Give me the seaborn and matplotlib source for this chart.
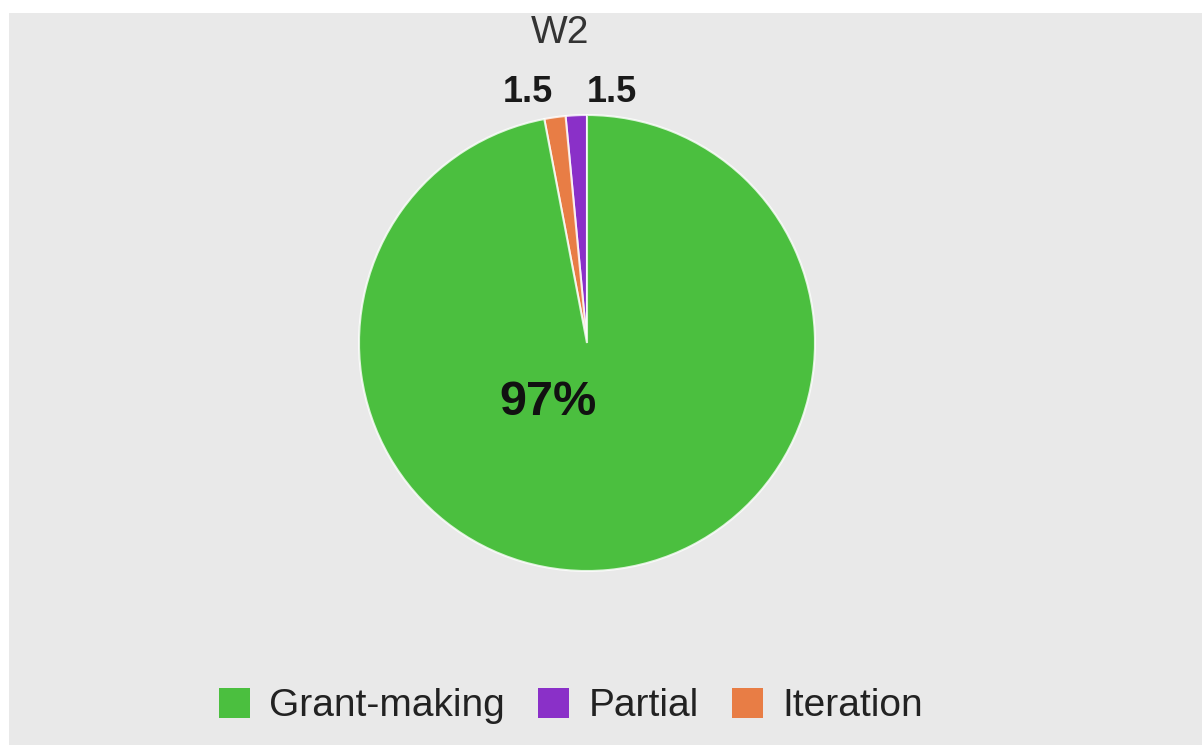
import matplotlib
matplotlib.use("Agg")
import matplotlib.pyplot as plt
import seaborn as sns
from matplotlib.patches import Patch, Rectangle

# data, in the order the slices are drawn (counter-clockwise from 12 o'clock)
slice_names = ["Partial", "Iteration", "Grant-making"]
slice_values = [1.5, 1.5, 97]
slice_labels = ["1.5", "1.5", "97%"]
legend_order = ["Grant-making", "Partial", "Iteration"]
title = "W2"

colors = {"Grant-making": "#4bbf3f", "Partial": "#8a30c8", "Iteration": "#e87d45"}

sns.set_style("white")
plt.rcParams["font.family"] = ["Liberation Sans", "DejaVu Sans"]

W, H = 1202, 745
fig = plt.figure(figsize=(W / 100, H / 100), dpi=100)
fig.patch.set_facecolor("white")

# grey panel, with the white strips on top and left
fig.add_artist(Rectangle((9 / W, -0.01), 1, 1.02, transform=fig.transFigure,
                         facecolor="#e9e9e9", edgecolor="none", zorder=-5))
fig.add_artist(Rectangle((0, (H - 13) / H), 1, 13 / H + 0.01, transform=fig.transFigure,
                         facecolor="white", edgecolor="none", zorder=20))

cx, cy, r = 587, H - 343, 228
ax = fig.add_axes([(cx - r) / W, (cy - r) / H, 2 * r / W, 2 * r / H])
ax.set_facecolor("none")

wedges, _ = ax.pie(slice_values,
                   colors=[colors[n] for n in slice_names],
                   startangle=90, counterclock=True,
                   wedgeprops=dict(edgecolor="white", linewidth=1.5))
for w in wedges:
    w.set_edgecolor((1, 1, 1, 0.8))
ax.set_xlim(-1, 1)
ax.set_ylim(-1, 1)
ax.set_aspect("equal")
ax.axis("off")

# slice labels
ax.text(0.11, 1.10, slice_labels[0], ha="center", va="center",
        fontsize=26, fontweight="bold", color="#1a1a1a")
ax.text(-0.26, 1.10, slice_labels[1], ha="center", va="center",
        fontsize=26, fontweight="bold", color="#1a1a1a")
ax.text(-0.17, -0.26, slice_labels[2], ha="center", va="center",
        fontsize=35, fontweight="bold", color="#111111")

ax.text(-0.118, 1.36, title, ha="center", va="center",
        fontsize=28, color="#333333")

handles = [Patch(facecolor=colors[n], edgecolor="none") for n in legend_order]
fig.legend(handles, legend_order, loc="center", bbox_to_anchor=(571 / W, 39 / H),
           ncol=3, frameon=False, fontsize=28, handlelength=0.8, handleheight=0.8,
           handletextpad=0.5, columnspacing=0.85, labelcolor="#222222")

fig.savefig("out.png", dpi=100)
